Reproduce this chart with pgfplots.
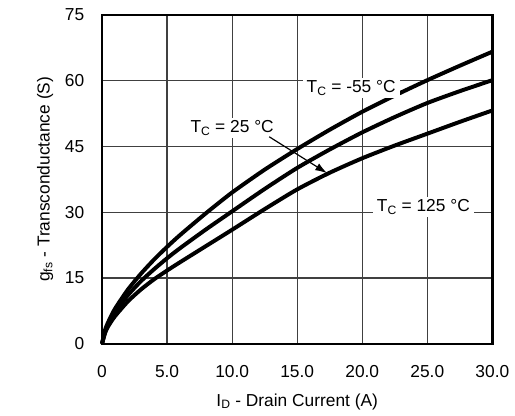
\documentclass[border=0pt]{standalone}
\usepackage{pgfplots}
\pgfplotsset{compat=1.18}
\usetikzlibrary{arrows.meta}
\usepackage{fontspec}
\setmainfont{Liberation Sans}
\begin{document}
\fontsize{17.5bp}{21bp}\selectfont
\begin{tikzpicture}
\begin{axis}[
 scale only axis, width=394bp, height=332bp,
 xmin=0,xmax=30,ymin=0,ymax=75,
 xtick={0,5,...,30}, xticklabels={0,5.0,10.0,15.0,20.0,25.0,30.0},
 ytick={0,15,...,75},
 grid=major, grid style={line width=1.2bp, black!75},
 major tick length=0,
 axis line style={line width=2.5bp},
 tick label style={font=\fontsize{17.5bp}{21bp}\selectfont},
 /pgf/number format/assume math mode=true,
 xticklabel style={yshift=-16bp},
 yticklabel style={xshift=-12bp},
 xlabel={I\textsubscript{D} - Drain Current (A)},
 ylabel={g\textsubscript{fs} - Transconductance (S)},
 xlabel style={yshift=-4bp},
 label style={font=\fontsize{17.5bp}{21bp}\selectfont},
 clip=false,
]
\addplot[black, line width=4bp, smooth, tension=0.4] coordinates {
(0,0)(0.25,3.3)(0.5,5.1)(1,8)(2,12.4)(3,16)(4,19.2)(5,22.1)(6,24.8)(8,29.8)(10,34.5)(12.5,39.7)(15,44.4)(17.5,48.8)(20,52.9)(22.5,56.6)(25,60.1)(27.5,63.4)(30,66.6)};
\addplot[black, line width=4bp, smooth, tension=0.4] coordinates {
(0,0)(0.25,2.9)(0.5,4.6)(1,7.2)(2,11.1)(3,14.3)(4,17)(5,19.5)(6,21.8)(8,26.1)(10,30.2)(12.5,35.3)(15,40.1)(17.5,44.3)(20,48.2)(22.5,51.7)(25,54.9)(27.5,57.6)(30,60.1)};
\addplot[black, line width=4bp, smooth, tension=0.4] coordinates {
(0,0)(0.25,2.6)(0.5,4.1)(1,6.3)(2,9.7)(3,12.4)(4,14.7)(5,16.7)(6,18.6)(8,22.3)(10,26)(12.5,30.7)(15,35.2)(17.5,39)(20,42.3)(22.5,45.2)(25,47.9)(27.5,50.6)(30,53.2)};
\node[fill=white, inner xsep=4bp, inner ysep=3bp] at (axis cs:19.15,58.3) {T\textsubscript{C} = -55 °C};
\node[fill=white, inner xsep=4bp, inner ysep=3bp] at (axis cs:10.0,49.2) {T\textsubscript{C} = 25 °C};
\node[fill=white, inner xsep=4bp, inner ysep=3bp] at (axis cs:24.7,31.2) {T\textsubscript{C} = 125 °C};
\draw[line width=1.2bp, -{Latex[length=12bp,width=8bp]}] (axis cs:12.85,47.2) -- (axis cs:17.3,38.9);
\end{axis}
\path (current axis.south west) ++(-103bp,-68bp);
\path (current axis.north east) ++(18bp,15bp);
\end{tikzpicture}
\end{document}
